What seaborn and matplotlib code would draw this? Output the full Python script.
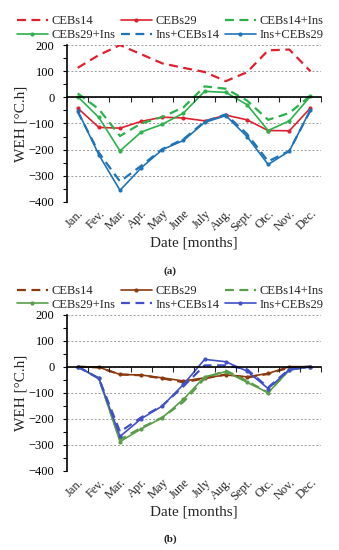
import pandas as pd
import matplotlib
matplotlib.use("Agg")
import matplotlib.pyplot as plt
import seaborn as sns
import numpy as np

months = ["Jan.", "Fev.", "Mar.", "Apr.", "May", "June", "July", "Aug.", "Sept.", "Otc.", "Nov.", "Dec."]
series_names = ["CEBs14", "CEBs29", "CEBs14+Ins", "CEBs29+Ins", "Ins+CEBs14", "Ins+CEBs29"]

# (a)
a_cebs14 = [113, 162, 200, 165, 130, 113, 97, 62, 96, 180, 183, 100]
a_cebs29 = [-41, -115, -118, -92, -76, -79, -90, -68, -86, -127, -128, -41]
a_cebs14_ins = [15, -45, -148, -100, -75, -38, 42, 33, -12, -86, -60, 6]
a_cebs29_ins = [3, -77, -205, -133, -103, -60, 23, 19, -28, -127, -90, 4]
a_ins_cebs14 = [-55, -212, -322, -262, -198, -160, -93, -65, -140, -245, -205, -50]
a_ins_cebs29 = [-51, -220, -356, -270, -200, -165, -96, -70, -150, -257, -206, -47]

# (b)
b_cebs14 = [0, -3, -30, -33, -45, -60, -45, -30, -42, -28, -3, 0]
b_cebs29 = [0, -2, -30, -32, -43, -55, -43, -32, -39, -26, 0, 0]
b_cebs14_ins = [0, -45, -280, -235, -195, -135, -45, -15, -55, -100, -10, 0]
b_cebs29_ins = [0, -45, -288, -239, -196, -125, -39, -19, -60, -100, -13, 0]
b_ins_cebs14 = [0, -45, -250, -195, -150, -75, 5, 5, -10, -80, -10, 0]
b_ins_cebs29 = [0, -45, -268, -200, -151, -68, 28, 19, -17, -84, -13, 0]

colors_a = ["#e0202e", "#e0202e", "#2bb24c", "#2bb24c", "#1f74b8", "#1f74b8"]
colors_b = ["#8b3a10", "#8b3a10", "#5a9e4b", "#5a9e4b", "#4150c6", "#4150c6"]
dashed = [True, False, True, False, True, False]

sns.set_style("ticks")
plt.rcParams["font.family"] = ["Liberation Serif", "DejaVu Serif"]


def long_df(values):
    rows = []
    for name, vals in zip(series_names, values):
        for i, v in enumerate(vals):
            rows.append({"month": i, "series": name, "WEH": v})
    return pd.DataFrame(rows)


def draw_panel(ax, values, colors, tag):
    df = long_df(values)
    for name, col, dsh in zip(series_names, colors, dashed):
        sub = df[df["series"] == name]
        if dsh:
            sns.lineplot(data=sub, x="month", y="WEH", ax=ax, color=col, lw=1.6,
                         label=name, linestyle=(0, (4, 2.5)))
        else:
            sns.lineplot(data=sub, x="month", y="WEH", ax=ax, color=col, lw=1.2,
                         marker="o", markersize=3, markeredgewidth=0, label=name)

    ax.set_xlim(-0.5, 11.5)
    ax.set_ylim(-400, 200)
    ax.set_yticks(np.arange(-400, 201, 100))
    ax.set_yticks(np.arange(-400, 201, 50), minor=True)
    ax.yaxis.grid(True, which="major", color="#999999", linestyle=(0, (2, 2)), lw=0.7)
    ax.set_axisbelow(True)
    for s in ["top", "right", "bottom"]:
        ax.spines[s].set_visible(False)
    ax.spines["left"].set_color("black")
    ax.spines["left"].set_linewidth(1.2)
    ax.tick_params(axis="y", which="both", direction="out", length=3, width=0.8,
                   labelsize=9, pad=6, colors="black")
    ax.set_xticks(range(12))
    ax.set_xticklabels(months, rotation=45, ha="right", rotation_mode="anchor", fontsize=9)
    ax.tick_params(axis="x", length=0, pad=4)

    # zero line with category boundary ticks
    ax2 = ax.twiny()
    ax2.set_xlim(ax.get_xlim())
    for s in ["top", "right", "left"]:
        ax2.spines[s].set_visible(False)
    ax2.spines["bottom"].set_position(("data", 0))
    ax2.spines["bottom"].set_color("black")
    ax2.spines["bottom"].set_linewidth(1.2)
    ax2.xaxis.set_ticks_position("bottom")
    ax2.set_xticks(np.arange(-0.5, 12, 1))
    ax2.set_xticklabels([])
    ax2.tick_params(axis="x", direction="out", length=3.5, width=0.8)

    ax.set_xlabel("Date [months]", fontsize=11, labelpad=2)
    ax.set_ylabel("WEH [°C.h]", fontsize=11, labelpad=1)

    handles, labels = ax.get_legend_handles_labels()
    order = [0, 3, 1, 4, 2, 5]
    ax.legend([handles[i] for i in order], [labels[i] for i in order], ncol=3,
              loc="lower center", bbox_to_anchor=(0.405, 1.0), frameon=False,
              fontsize=9, handlelength=2.5, columnspacing=0.45, handletextpad=0.25,
              labelspacing=0.15, borderaxespad=0.1, borderpad=0.2)
    ax.text(0.405, -0.44, tag, transform=ax.transAxes, ha="center", va="center",
            fontsize=8, fontweight="bold")


fig = plt.figure(figsize=(3.39, 5.50), dpi=100)
ax_a = fig.add_axes([0.198, 0.633, 0.749, 0.285])
ax_b = fig.add_axes([0.198, 0.144, 0.749, 0.284])

draw_panel(ax_a, [a_cebs14, a_cebs29, a_cebs14_ins, a_cebs29_ins, a_ins_cebs14, a_ins_cebs29],
           colors_a, "(a)")
draw_panel(ax_b, [b_cebs14, b_cebs29, b_cebs14_ins, b_cebs29_ins, b_ins_cebs14, b_ins_cebs29],
           colors_b, "(b)")

fig.savefig("out.png", dpi=100)
